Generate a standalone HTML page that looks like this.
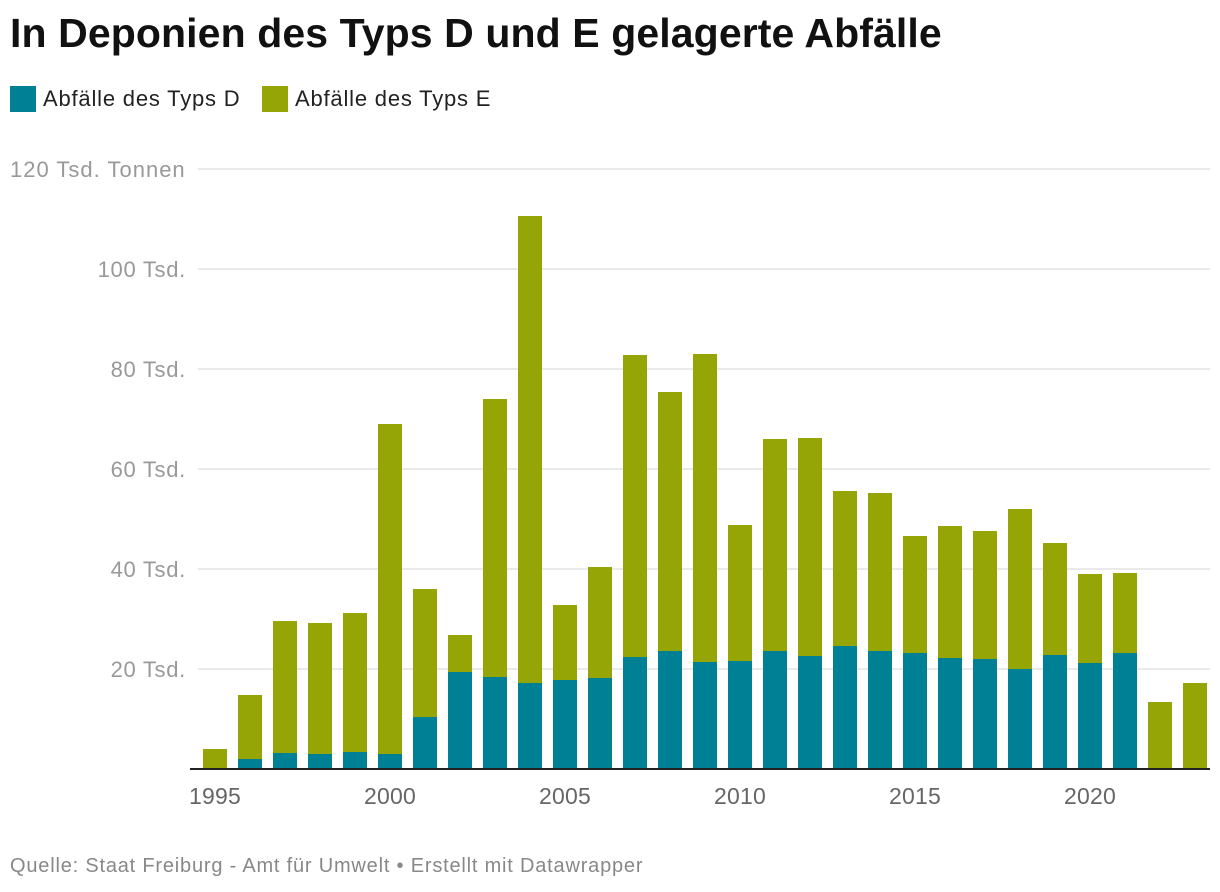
<!DOCTYPE html>
<html><head><meta charset="utf-8"><style>
body{margin:0;background:#fff;font-family:"Liberation Sans",sans-serif;width:1220px;height:892px;overflow:hidden;position:relative}
h1{position:absolute;left:10px;top:10px;margin:0;font-size:41px;font-weight:bold;color:#111;letter-spacing:0.1px}
.leg{position:absolute;top:86px;font-size:22px;color:#222;display:flex;align-items:center;letter-spacing:0.8px}
.sw{width:26px;height:26px;margin-right:7px}
.foot{position:absolute;left:10px;top:855px;font-size:20px;color:#888;letter-spacing:0.8px}
</style></head><body>
<h1>In Deponien des Typs D und E gelagerte Abfälle</h1>
<div class="leg" style="left:10px"><div class="sw" style="background:#008095"></div>Abfälle des Typs D</div>
<div class="leg" style="left:262px"><div class="sw" style="background:#94a505"></div>Abfälle des Typs E</div>
<svg id="c" width="1220" height="892" style="position:absolute;left:0;top:0"></svg>
<div class="foot">Quelle: Staat Freiburg - Amt für Umwelt • Erstellt mit Datawrapper</div>
<script>
const years=[1995,1996,1997,1998,1999,2000,2001,2002,2003,2004,2005,2006,2007,2008,2009,2010,2011,2012,2013,2014,2015,2016,2017,2018,2019,2020,2021,2022,2023];
const typD=[0,2,3.2,3,3.4,3,10.4,19.4,18.4,17.2,17.8,18.2,22.4,23.6,21.4,21.6,23.6,22.6,24.6,23.6,23.2,22.2,22,20,22.8,21.2,23.2,0,0];
const total=[4,14.8,29.6,29.2,31.2,69,36,26.8,74,110.6,32.8,40.4,82.8,75.4,83,48.8,66,66.2,55.6,55.2,46.6,48.6,47.6,52,45.2,39,39.2,13.4,17.2];
const typE=total.map((t,i)=>+(t-typD[i]).toFixed(1));
const yTicks=[20,40,60,80,100,120];
const yLabels=["20 Tsd.","40 Tsd.","60 Tsd.","80 Tsd.","100 Tsd.","120 Tsd. Tonnen"];
const xLabels=[1995,2000,2005,2010,2015,2020];
const svg=document.getElementById('c');const NS='http://www.w3.org/2000/svg';
const y=v=>769-v*5;
const x=yr=>215+(yr-1995)*35;
function mk(t,a,txt){const e=document.createElementNS(NS,t);for(const k in a)e.setAttribute(k,a[k]);if(txt!==undefined)e.textContent=txt;svg.appendChild(e);return e;}
yTicks.forEach((v,i)=>{
 const l=mk('line',{x1:198,x2:1210,y1:y(v),y2:y(v),stroke:'#e3e3e3','stroke-width':1.5});
 
 
 const t=mk('text',{x:i==5?10:186,y:y(v)+8,'font-size':22,fill:'#999','text-anchor':i==5?'start':'end','font-family':'Liberation Sans','letter-spacing':i==5?1:0.7},yLabels[i]);
 
 
});
years.forEach((yr,i)=>{
 const cx=x(yr);
 if(typD[i]>0){const r=mk('rect',{x:cx-12,y:y(typD[i]),width:24,height:typD[i]*5,fill:'#008095'});
 
 }
 const r2=mk('rect',{x:cx-12,y:y(typD[i]+typE[i]),width:24,height:typE[i]*5,fill:'#94a505'});
 
 
});
const ax=mk('line',{x1:190,x2:1210,y1:769,y2:769,stroke:'#222','stroke-width':2});


xLabels.forEach(yr=>{
 const t=mk('text',{x:x(yr),y:804,'font-size':23,fill:'#666','text-anchor':'middle','font-family':'Liberation Sans','letter-spacing':0.2},yr);
 
 
});
</script>
</body></html>
